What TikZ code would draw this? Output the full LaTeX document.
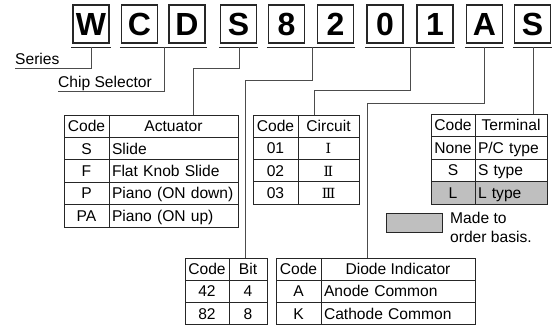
\documentclass[tikz,border=0pt]{standalone}
\usepackage{fontspec}
\setmainfont{Liberation Sans}
\newfontfamily\romanfont{DejaVu Serif}
\usetikzlibrary{positioning}

\begin{document}
\begin{tikzpicture}[x=1pt,y=-1pt,node distance=0pt]
	\tikzstyle{letter} = [rectangle, draw=black!85, line width=1.2pt, minimum width=36pt, minimum height=38pt, inner sep=0pt, text height=23pt, text depth=0pt, font=\fontsize{32}{32}\selectfont\bfseries];
	\tikzstyle{cell} = [rectangle, draw=black!85, line width=0.9pt, inner sep=0pt, outer sep=0pt, minimum height=22.4pt, text height=11pt, text depth=0pt, font=\fontsize{15.6}{18}\selectfont];
	\tikzstyle{desc} = [cell, align=left, inner xsep=3pt];
	\tikzstyle{roman} = [cell, font=\romanfont\fontsize{14}{14}\selectfont];
	\tikzstyle{uline} = [draw=black!85, line width=0.9pt];
	\tikzstyle{leader} = [draw=black!70, line width=0.9pt];
	\tikzstyle{caption} = [inner sep=0pt, text depth=3.5pt, font=\fontsize{15.6}{18}\selectfont];
	\useasboundingbox (0,0) rectangle (558,326);
	
	% part number letters
	\draw node [letter] (w) at (91,24) {W};
	\draw node [letter] (c) at (139.5,24) {C};
	\draw node [letter] (d) at (187,24) {D};
	\draw node [letter] (s) at (238.5,24) {S};
	\draw node [letter] (n8) at (286.5,24) {8};
	\draw node [letter] (n2) at (335.5,24) {2};
	\draw node [letter] (n0) at (385,24) {0};
	\draw node [letter] (n1) at (435,24) {1};
	\draw node [letter] (a) at (484.5,24) {A};
	\draw node [letter] (t) at (532.5,24) {S};
	
	\draw [uline] ([shift={(-1,4)}]w.south west) -- ([shift={(1,4)}]w.south east);
	\draw [uline] ([shift={(-1,4)}]c.south west) -- ([shift={(1,4)}]d.south east);
	\draw [uline] ([shift={(-1,4)}]s.south west) -- ([shift={(1,4)}]s.south east);
	\draw [uline] ([shift={(-1,4)}]n8.south west) -- ([shift={(1,4)}]n2.south east);
	\draw [uline] ([shift={(-1,4)}]n0.south west) -- ([shift={(1,4)}]n1.south east);
	\draw [uline] ([shift={(-1,4)}]a.south west) -- ([shift={(1,4)}]a.south east);
	\draw [uline] ([shift={(-1,4)}]t.south west) -- ([shift={(1,4)}]t.south east);
	
	% captions
	\draw node [caption, anchor=south west] (series) at (15,68) {Series};
	\draw node [caption, anchor=south west] (chip) at (58,91) {Chip Selector};
	
	% Actuator
	\draw node [cell, minimum width=45pt] (act0) at (86.5,126.2) {Code};
	\draw node [cell, minimum width=129pt, right=of act0] (actd0) {Actuator};
	\draw node [cell, minimum width=45pt, below=of act0] (act1) {S};
	\draw node [desc, text width=123pt, right=of act1] (actd1) {Slide};
	\draw node [cell, minimum width=45pt, below=of act1] (act2) {F};
	\draw node [desc, text width=123pt, right=of act2] (actd2) {Flat Knob Slide};
	\draw node [cell, minimum width=45pt, below=of act2] (act3) {P};
	\draw node [desc, text width=123pt, right=of act3] (actd3) {Piano (ON down)};
	\draw node [cell, minimum width=45pt, below=of act3] (act4) {PA};
	\draw node [desc, text width=123pt, right=of act4] (actd4) {Piano (ON up)};
	
	% Circuit
	\draw node [cell, minimum width=45pt, minimum height=22.3pt] (cir0) at (275.5,126.15) {Code};
	\draw node [cell, minimum width=61pt, minimum height=22.3pt, right=of cir0] (cird0) {Circuit};
	\draw node [cell, minimum width=45pt, minimum height=22.3pt, below=of cir0] (cir1) {01};
	\draw node [roman, minimum width=61pt, minimum height=22.3pt, right=of cir1] (cird1) {Ⅰ};
	\draw node [cell, minimum width=45pt, minimum height=22.3pt, below=of cir1] (cir2) {02};
	\draw node [roman, minimum width=61pt, minimum height=22.3pt, right=of cir2] (cird2) {Ⅱ};
	\draw node [cell, minimum width=45pt, minimum height=22.3pt, below=of cir2] (cir3) {03};
	\draw node [roman, minimum width=61pt, minimum height=22.3pt, right=of cir3] (cird3) {Ⅲ};
	
	% Terminal
	\draw node [cell, minimum width=44pt, minimum height=22.5pt] (ter0) at (453,125.25) {Code};
	\draw node [cell, minimum width=72pt, minimum height=22.5pt, right=of ter0] (terd0) {Terminal};
	\draw node [cell, minimum width=44pt, minimum height=22.5pt, below=of ter0] (ter1) {None};
	\draw node [desc, text width=66pt, minimum height=22.5pt, right=of ter1] (terd1) {P/C type};
	\draw node [cell, minimum width=44pt, minimum height=22.5pt, below=of ter1] (ter2) {S};
	\draw node [desc, text width=66pt, minimum height=22.5pt, right=of ter2] (terd2) {S type};
	\draw node [cell, minimum width=44pt, minimum height=22.5pt, below=of ter2, fill=black!25] (ter3) {L};
	\draw node [desc, text width=66pt, minimum height=22.5pt, right=of ter3, fill=black!25] (terd3) {L type};
	
	\draw node [rectangle, draw=black!85, line width=0.9pt, fill=black!25, minimum width=56pt, minimum height=19pt, inner sep=0pt, anchor=north west] (legend) at (386,213) {};
	\draw node [caption, text depth=0pt, align=left, anchor=north west, font=\fontsize{15.6}{18.5}\selectfont] (legendtxt) at (450,212) {Made to\\order basis.};
	
	% Bit
	\draw node [cell, minimum width=44pt, minimum height=22.3pt] (bit0) at (207,269.15) {Code};
	\draw node [cell, minimum width=38pt, minimum height=22.3pt, right=of bit0] (bitd0) {Bit};
	\draw node [cell, minimum width=44pt, minimum height=22.3pt, below=of bit0] (bit1) {42};
	\draw node [cell, minimum width=38pt, minimum height=22.3pt, right=of bit1] (bitd1) {4};
	\draw node [cell, minimum width=44pt, minimum height=22.3pt, below=of bit1] (bit2) {82};
	\draw node [cell, minimum width=38pt, minimum height=22.3pt, right=of bit2] (bitd2) {8};
	
	% Diode Indicator
	\draw node [cell, minimum width=45pt, minimum height=22.3pt] (dio0) at (298.5,269.15) {Code};
	\draw node [cell, minimum width=154pt, minimum height=22.3pt, right=of dio0] (diod0) {Diode Indicator};
	\draw node [cell, minimum width=45pt, minimum height=22.3pt, below=of dio0] (dio1) {A};
	\draw node [desc, text width=148pt, minimum height=22.3pt, right=of dio1] (diod1) {Anode Common};
	\draw node [cell, minimum width=45pt, minimum height=22.3pt, below=of dio1] (dio2) {K};
	\draw node [desc, text width=148pt, minimum height=22.3pt, right=of dio2] (diod2) {Cathode Common};
	
	% leader lines
	\coordinate (seriesU) at (91,47);
	\coordinate (chipU) at (164,47);
	\coordinate (actU) at (239,47);
	\coordinate (actK) at (193,68);
	\coordinate (bitU) at (312,47);
	\coordinate (bitK) at (245,80);
	\coordinate (cirU) at (410,47);
	\coordinate (cirK) at (314,90);
	\coordinate (dioU) at (484,47);
	\coordinate (dioK) at (367,103);
	\coordinate (terU) at (533,47);
	
	\draw [leader] (seriesU) |- (series.south west);
	\draw [leader] (chipU) |- (chip.south west);
	\draw [leader] (actU) |- (actK) -- (actK |- actd0.north);
	\draw [leader] (bitU) |- (bitK) -- (bitK |- bitd0.north);
	\draw [leader] (cirU) |- (cirK) -- (cirK |- cird0.north);
	\draw [leader] (dioU) |- (dioK) -- (dioK |- diod0.north);
	\draw [leader] (terU) -- (terU |- terd0.north);
	
\end{tikzpicture}
\end{document}
